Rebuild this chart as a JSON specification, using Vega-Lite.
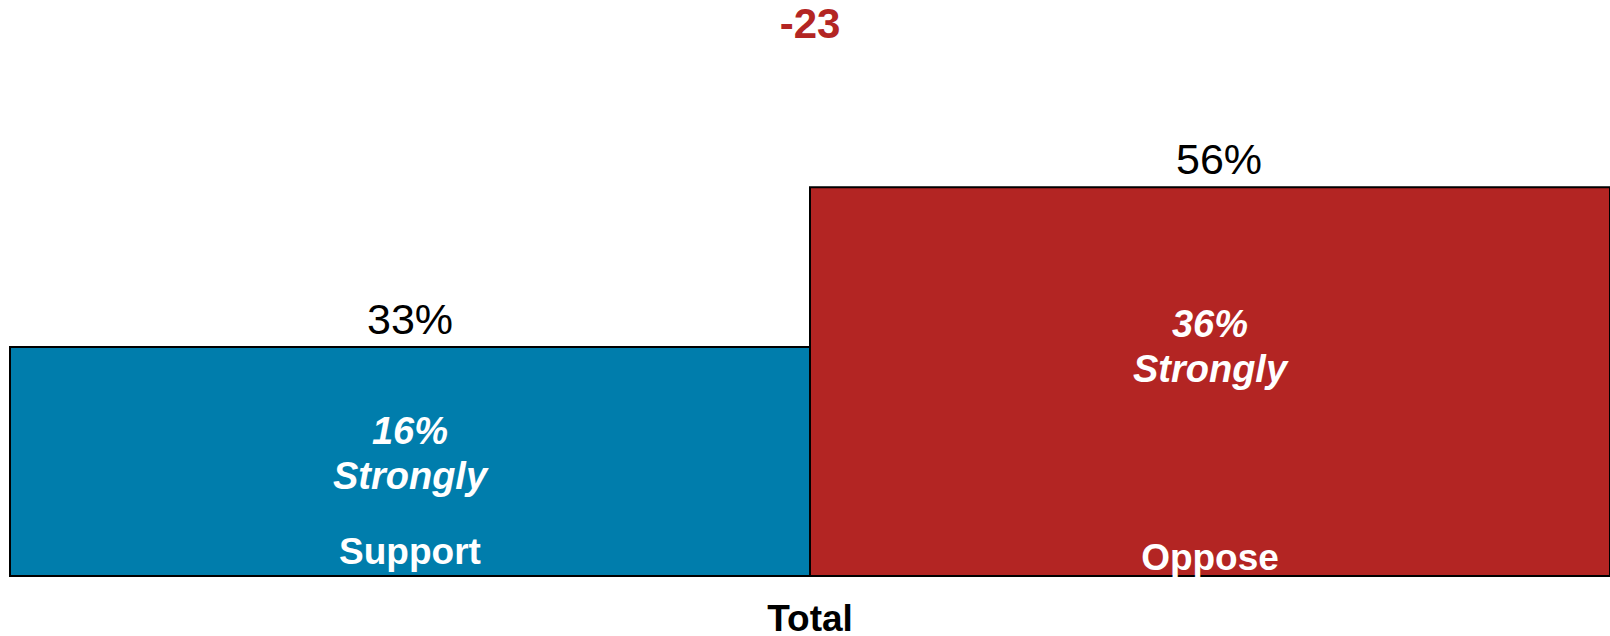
{
  "$schema": "https://vega.github.io/schema/vega-lite/v6.json",
  "width": 1600,
  "height": 496,
  "autosize": {"type": "none"},
  "padding": {"left": 10, "top": 80, "right": 0, "bottom": 60},
  "background": "white",
  "config": {
    "view": {"stroke": null},
    "font": "Liberation Sans"
  },
  "title": {
    "text": "-23",
    "color": "#B32523",
    "fontSize": 42,
    "fontWeight": "bold",
    "font": "Liberation Sans",
    "anchor": "middle",
    "offset": 33
  },
  "data": {
    "values": [
      {"group": "Total", "side": "Support", "total": 33, "strong": 16, "totalLabel": "33%", "strongLabel": "16%\nStrongly"},
      {"group": "Total", "side": "Oppose", "total": 56, "strong": 36, "totalLabel": "56%", "strongLabel": "36%\nStrongly"}
    ]
  },
  "encoding": {
    "x": {
      "field": "group",
      "type": "nominal",
      "scale": {"paddingInner": 0, "paddingOuter": 0},
      "axis": {
        "title": null,
        "ticks": false,
        "tickSize": 0,
        "domain": false,
        "labelFontSize": 37,
        "labelFontWeight": "bold",
        "labelColor": "black",
        "labelFont": "Liberation Sans",
        "labelPadding": 25,
        "labelAngle": 0
      }
    },
    "xOffset": {
      "field": "side",
      "type": "nominal",
      "sort": ["Support", "Oppose"],
      "scale": {"paddingInner": 0, "paddingOuter": 0}
    }
  },
  "layer": [
    {
      "mark": {"type": "bar", "stroke": "black", "strokeWidth": 2},
      "encoding": {
        "y": {
          "field": "total",
          "type": "quantitative",
          "scale": {"domain": [0, 71.47], "nice": false},
          "axis": null
        },
        "color": {
          "field": "side",
          "type": "nominal",
          "scale": {"domain": ["Support", "Oppose"], "range": ["#007DAC", "#B32523"]},
          "legend": null
        }
      }
    },
    {
      "transform": [{"filter": "datum.side === 'Support'"}],
      "mark": {"type": "text", "baseline": "alphabetic", "dy": -13, "fontSize": 43, "color": "black", "font": "Liberation Sans"},
      "encoding": {
        "y": {"field": "total", "type": "quantitative"},
        "text": {"field": "totalLabel"}
      }
    },
    {
      "transform": [{"filter": "datum.side === 'Oppose'"}],
      "mark": {"type": "text", "baseline": "alphabetic", "dy": -13, "dx": 9, "fontSize": 43, "color": "black", "font": "Liberation Sans"},
      "encoding": {
        "y": {"field": "total", "type": "quantitative"},
        "text": {"field": "totalLabel"}
      }
    },
    {
      "transform": [{"filter": "datum.side === 'Support'"}],
      "mark": {"type": "text", "baseline": "middle", "dy": -32, "fontSize": 38, "fontWeight": "bold", "fontStyle": "italic", "color": "white", "lineBreak": "\n", "lineHeight": 45, "font": "Liberation Sans"},
      "encoding": {
        "y": {"field": "strong", "type": "quantitative"},
        "text": {"field": "strongLabel"}
      }
    },
    {
      "transform": [{"filter": "datum.side === 'Oppose'"}],
      "mark": {"type": "text", "baseline": "middle", "dy": 0, "fontSize": 38, "fontWeight": "bold", "fontStyle": "italic", "color": "white", "lineBreak": "\n", "lineHeight": 45, "font": "Liberation Sans"},
      "encoding": {
        "y": {"field": "strong", "type": "quantitative"},
        "text": {"field": "strongLabel"}
      }
    },
    {
      "transform": [{"filter": "datum.side === 'Support'"}],
      "mark": {"type": "text", "baseline": "alphabetic", "dy": -12, "fontSize": 37, "fontWeight": "bold", "color": "white", "font": "Liberation Sans"},
      "encoding": {
        "y": {"datum": 0, "type": "quantitative"},
        "text": {"field": "side"}
      }
    },
    {
      "transform": [{"filter": "datum.side === 'Oppose'"}],
      "mark": {"type": "text", "baseline": "alphabetic", "dy": -6, "fontSize": 37, "fontWeight": "bold", "color": "white", "font": "Liberation Sans"},
      "encoding": {
        "y": {"datum": 0, "type": "quantitative"},
        "text": {"field": "side"}
      }
    }
  ]
}
